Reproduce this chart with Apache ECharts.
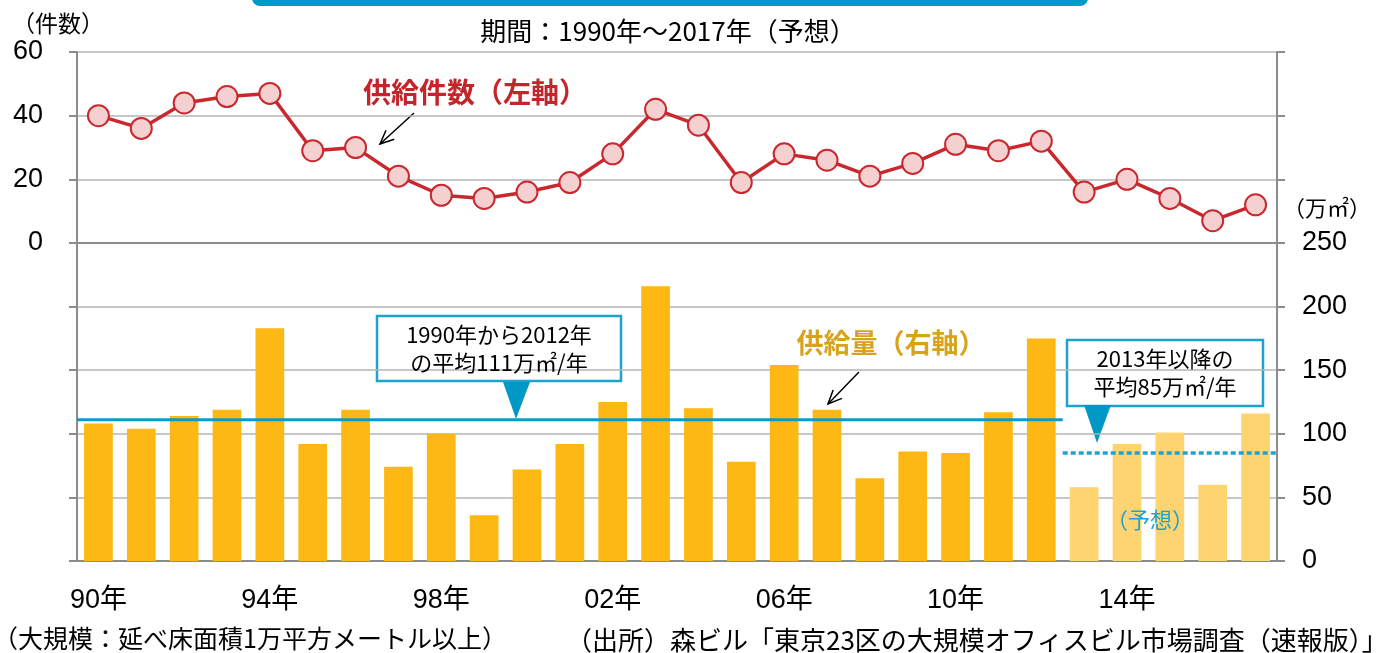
<!DOCTYPE html>
<html>
<head>
<meta charset="utf-8">
<script src="https://cdn.jsdelivr.net/npm/echarts@6/dist/echarts.min.js"></script>
<style>
html, body { margin: 0; padding: 0; background: #fff; }
#main { width: 1383px; height: 653px; }
</style>
</head>
<body>
<div id="main"></div>
<script>
// 年（1990〜2017）
var years = ['90', '91', '92', '93', '94', '95', '96', '97', '98', '99',
             '00', '01', '02', '03', '04', '05', '06', '07', '08', '09',
             '10', '11', '12', '13', '14', '15', '16', '17'];
// 供給件数（左軸）
var supplyCount = [40, 36, 44, 46, 47, 29, 30, 21, 15, 14, 16, 19, 28, 42,
                   37, 19, 28, 26, 21, 25, 31, 29, 32, 16, 20, 14, 7, 12];
// 供給量（右軸, 万㎡）
var supplyArea = [108, 104, 114, 119, 183, 92, 119, 74, 100, 36, 72, 92, 125, 216,
                  120, 78, 154, 119, 65, 86, 85, 117, 175, 58, 92, 101, 60, 116];
var firstForecast = '13';   // 2013年以降は予想
var avgPast = 111;          // 1990〜2012年平均
var avgFuture = 85;         // 2013年以降平均
var countTicks = [0, 60, 20];
var areaTicks = [0, 250, 50];

var chart = echarts.init(document.getElementById('main'));

var JP = "'Noto Sans CJK JP', sans-serif";
var NUM = "'Liberation Sans', 'Noto Sans CJK JP', sans-serif";
var AXIS = '#8c8c8c';
var GRID = '#b5b5b5';
var BLUE = '#0f9ac6';

var fcIndex = years.indexOf(firstForecast);
var barData = supplyArea.map(function (v, i) {
  return { value: v, itemStyle: { color: i >= fcIndex ? '#fdd470' : '#fdb813' } };
});

function txt(x, y, s, size, color, weight, align) {
  return {
    type: 'text', x: x, y: y, z: 100,
    style: {
      text: s, fill: color || '#000', align: align || 'center', verticalAlign: 'middle',
      font: (weight || 'normal') + ' ' + size + 'px ' + JP
    }
  };
}

function arrow(x1, y1, x2, y2) {
  var a = Math.atan2(y2 - y1, x2 - x1), L = 15, w = 0.42;
  return {
    type: 'group', z: 100,
    children: [
      { type: 'line', shape: { x1: x1, y1: y1, x2: x2, y2: y2 }, style: { stroke: '#000', lineWidth: 1.5 } },
      { type: 'polyline', shape: { points: [
          [x2 - L * Math.cos(a - w), y2 - L * Math.sin(a - w)], [x2, y2],
          [x2 - L * Math.cos(a + w), y2 - L * Math.sin(a + w)]] },
        style: { stroke: '#000', lineWidth: 1.5 } }
    ]
  };
}

function callout(x, y, w, h, lines, tri) {
  var kids = [
    { type: 'rect', shape: { x: x, y: y, width: w, height: h }, style: { fill: '#fff', stroke: '#1ea3d0', lineWidth: 2.5 } },
    { type: 'polygon', shape: { points: tri }, style: { fill: '#0099c6' } }
  ];
  lines.forEach(function (s, i) {
    kids.push(txt(x + w / 2, y + 19 + i * 28, s, 22, '#000'));
  });
  return { type: 'group', z: 100, children: kids };
}

var option = {
  animation: false,
  backgroundColor: '#fff',
  grid: [
    { left: 77, right: 106, top: 52, height: 191 },
    { left: 77, right: 106, top: 243, height: 318 }
  ],
  xAxis: [
    { gridIndex: 0, type: 'category', data: years,
      axisLine: { lineStyle: { color: AXIS, width: 2 } },
      axisTick: { interval: 3, inside: true, length: 10, lineStyle: { color: AXIS, width: 2 } },
      axisLabel: { show: false } },
    { gridIndex: 1, type: 'category', data: years,
      axisLine: { lineStyle: { color: AXIS, width: 2 } },
      axisTick: { show: false },
      axisLabel: { interval: 3, margin: 26, color: '#000', fontSize: 27, fontFamily: NUM,
        formatter: function (v) { return v + '年'; } } },
    { gridIndex: 1, type: 'value', min: 0, max: years.length, show: false }
  ],
  yAxis: [
    { gridIndex: 0, type: 'value', position: 'left',
      min: countTicks[0], max: countTicks[1], interval: countTicks[2],
      axisLine: { show: true, lineStyle: { color: AXIS, width: 2 } },
      axisTick: { show: true, length: 8, lineStyle: { color: AXIS, width: 2 } },
      axisLabel: { margin: 34, color: '#000', fontSize: 27, fontFamily: NUM },
      splitLine: { lineStyle: { color: GRID, width: 1.5 } } },
    { gridIndex: 0, type: 'value', position: 'right',
      min: countTicks[0], max: countTicks[1], interval: countTicks[2],
      axisLine: { show: true, lineStyle: { color: AXIS, width: 2 } },
      axisTick: { show: true, length: 8, lineStyle: { color: AXIS, width: 2 } },
      axisLabel: { show: false }, splitLine: { show: false } },
    { gridIndex: 1, type: 'value', position: 'left',
      min: areaTicks[0], max: areaTicks[1], interval: areaTicks[2],
      axisLine: { show: true, lineStyle: { color: AXIS, width: 2 } },
      axisTick: { show: true, length: 8, lineStyle: { color: AXIS, width: 2 } },
      axisLabel: { show: false },
      splitLine: { lineStyle: { color: GRID, width: 1.5 } } },
    { gridIndex: 1, type: 'value', position: 'right',
      min: areaTicks[0], max: areaTicks[1], interval: areaTicks[2],
      axisLine: { show: true, lineStyle: { color: AXIS, width: 2 } },
      axisTick: { show: true, length: 8, lineStyle: { color: AXIS, width: 2 } },
      axisLabel: { margin: 25, color: '#000', fontSize: 27, fontFamily: NUM },
      splitLine: { show: false } }
  ],
  series: [
    { name: '供給量', type: 'bar', xAxisIndex: 1, yAxisIndex: 3,
      data: barData, barCategoryGap: '33%' },
    { name: '平均(1990-2012)', type: 'line', xAxisIndex: 2, yAxisIndex: 3,
      data: [[0, avgPast], [fcIndex, avgPast]], symbol: 'none', z: 5,
      lineStyle: { color: BLUE, width: 3 } },
    { name: '平均(2013-)', type: 'line', xAxisIndex: 2, yAxisIndex: 3,
      data: [[fcIndex, avgFuture], [years.length, avgFuture]], symbol: 'none', z: 5,
      lineStyle: { color: '#1ea3d0', width: 3.5, type: [5, 3] } },
    { name: '供給件数', type: 'line', xAxisIndex: 0, yAxisIndex: 0,
      data: supplyCount, symbol: 'circle', symbolSize: 21, z: 6,
      lineStyle: { color: '#c8282e', width: 3.5 },
      itemStyle: { color: '#f5d0d0', borderColor: '#c8282e', borderWidth: 2 } }
  ],
  graphic: [
    { type: 'rect', z: 100, shape: { x: 252, y: -12, width: 836, height: 18, r: 8 }, style: { fill: '#0099c8' } },
    txt(668, 31, '期間：1990年～2017年（予想）', 26, '#000'),
    txt(58, 23, '（件数）', 23, '#000'),
    txt(1327, 208, '（万㎡）', 22, '#000'),
    txt(475, 92, '供給件数（左軸）', 28, '#c3252b', 'bold'),
    arrow(414, 113, 380, 144),
    txt(891, 343, '供給量（右軸）', 27, '#d7a31a', 'bold'),
    arrow(859, 372, 828, 404),
    callout(377, 316, 244, 65, ['1990年から2012年', 'の平均111万㎡/年'], [[503, 382], [530, 382], [516, 419]]),
    callout(1067, 340, 196, 66, ['2013年以降の', '平均85万㎡/年'], [[1084, 405], [1111, 405], [1097, 443]]),
    txt(1150, 520, '（予想）', 22, '#1ea3d0'),
    txt(-7, 638, '（大規模：延べ床面積1万平方メートル以上）', 25, '#000', 'normal', 'left'),
    txt(566, 640, '（出所）森ビル「東京23区の大規模オフィスビル市場調査（速報版）」', 26, '#000', 'normal', 'left')
  ]
};

chart.setOption(option);
</script>
</body>
</html>
